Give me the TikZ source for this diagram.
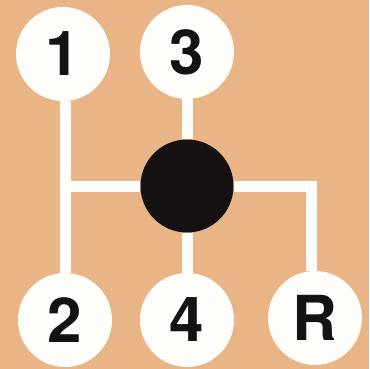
\documentclass[tikz,border=0pt]{standalone}
\usepackage{fontspec}
\setmainfont{TeX Gyre Heros}
\usepackage{tikz}
\usetikzlibrary{positioning}
\definecolor{tan}{RGB}{233,180,134}
\definecolor{offwhite}{RGB}{254,253,250}
\definecolor{knobblack}{RGB}{22,18,18}
\begin{document}
\begin{tikzpicture}[x=1pt, y=-1pt,
    gear/.style={circle, fill=offwhite, minimum size=94pt, inner sep=0pt,
        font=\fontsize{62}{62}\selectfont\bfseries, text=knobblack},
    knobstyle/.style={circle, fill=knobblack, minimum size=93pt, inner sep=0pt},
    gate/.style={draw=offwhite, line width=11pt}
]
    % Background
    \fill[tan] (0,0) rectangle (369,369);
    \useasboundingbox (0,0) rectangle (369,369);

    % Gear positions
    \node[gear] (g1) at (63,54) {1};
    \node[gear] (g3) at (187,52) {3};
    \node[gear] (g2) at (65,320) {2};
    \node[gear] (g4) at (187,320) {4};
    \node[gear] (gR) at (315,318) {R};

    % Shift knob
    \node[knobstyle] (knob) at (187,186) {};

    % Gate junctions
    \coordinate (jl) at (65,186);
    \coordinate (jr) at (311,186);

    % Gate lines
    \draw[gate] (g1.south -| jl) -- (g2.north -| jl);
    \draw[gate] (jl) -- (knob);
    \draw[gate] (g3) -- (knob);
    \draw[gate] (knob) -- (g4);
    \draw[gate] (knob) -- (jr.center) -- (gR.north -| jr);
\end{tikzpicture}
\end{document}
